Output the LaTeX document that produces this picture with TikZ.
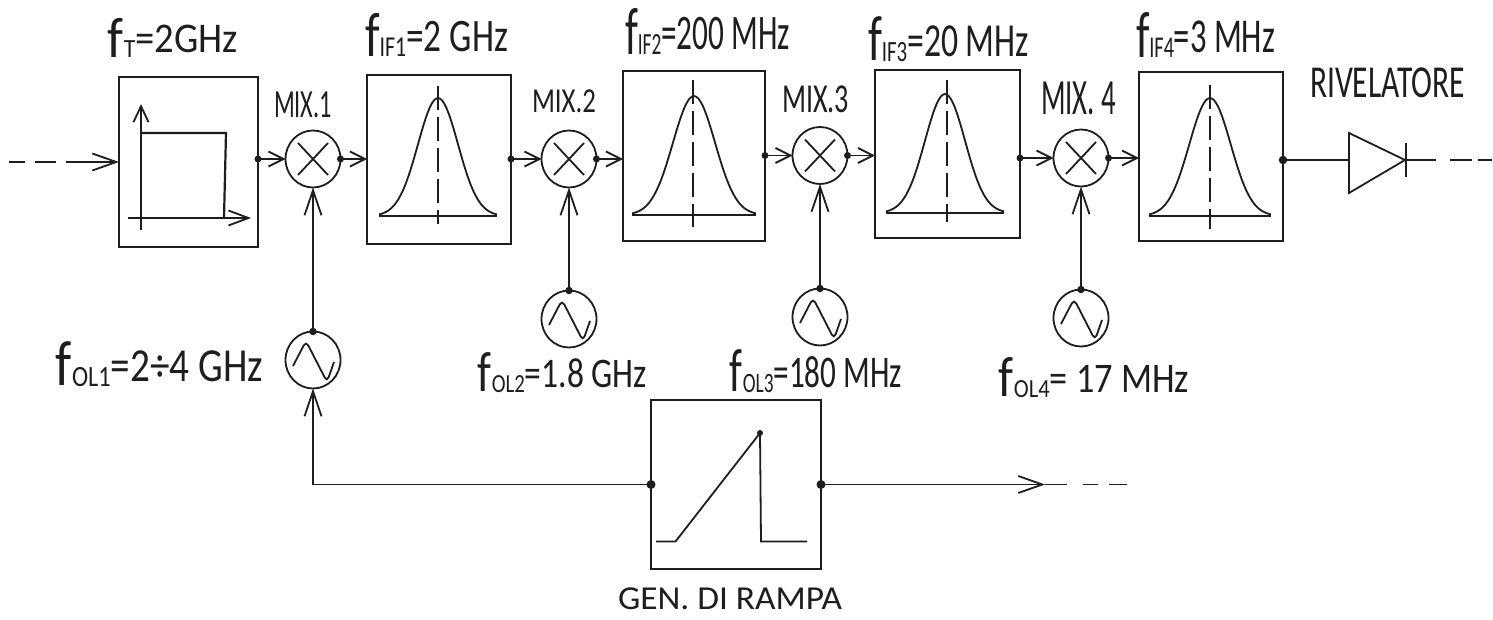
\documentclass[tikz,border=0pt]{standalone}
\usepackage{graphicx}
\usepackage{fontspec}
\setmainfont{Carlito}
\usetikzlibrary{arrows.meta,shapes.geometric,calc}
\definecolor{ink}{HTML}{1E1E1E}
\tikzset{
  ln/.style={draw=ink,line width=1.8pt},
  thin ln/.style={draw=ink,line width=1.3pt},
  blockbox/.style={ln,rectangle,inner sep=0pt,outer sep=0pt},
  rnd/.style={ln,ellipse,inner sep=0pt,outer sep=0pt,minimum width=55pt,minimum height=57pt},
  lab/.style={inner sep=0pt,outer sep=0pt,text=ink},
  small arr/.style={ln,-{Straight Barb[length=15pt,width=15pt,line width=1.8pt]}},
  mid arr/.style={ln,-{Straight Barb[length=24pt,width=17pt,line width=1.8pt]}},
  up arr/.style={ln,-{Straight Barb[length=25pt,width=17pt,line width=1.8pt]}},
  dot/.style={circle,fill=ink,inner sep=0pt,minimum size=7.5pt},
  center dash/.style={thin ln,dash pattern=on 24pt off 7pt},
}
\newcommand{\fq}[2]{\raisebox{-0.1em}{\scalebox{1.35}{f}}\raisebox{-0.12em}{\scalebox{0.62}{#1}}#2}
\newcommand{\fitto}[3]{\resizebox*{#1pt}{#2pt}{#3}}
% filter curve: centre x, base y, half width, height
\newcommand{\filtercurve}[4]{%
  \draw[ln] plot[smooth,samples=31,domain=-1:1,variable=\u] ({#1+\u*#3},{#2-#4*exp(-(\u*\u)/(2*0.34*0.34))});
  \draw[ln] (#1-#3,#2) -- (#1+#3,#2);
}
\newcommand{\sinewave}[1]{%
  \draw[ln,rounded corners=5pt] ($(#1)+(-20,6)$) -- ($(#1)+(-7,-19)$) -- ($(#1)+(14,22)$) -- ($(#1)+(21,2)$);
}
\newcommand{\crossmark}[1]{%
  \draw[ln] ($(#1)+(-15,-16)$) -- ($(#1)+(15,16)$);
  \draw[ln] ($(#1)+(15,-16)$) -- ($(#1)+(-15,16)$);
}
\begin{document}
\begin{tikzpicture}[x=1pt,y=-1pt]
\useasboundingbox (0,0) rectangle (1493,620);
\fill[white] (0,0) rectangle (1493,620);

% blocks
\node[blockbox,minimum width=139pt,minimum height=170pt] (b0) at (188.5,162) {};
\node[blockbox,minimum width=144pt,minimum height=169pt] (b1) at (439,159.5) {};
\node[blockbox,minimum width=142pt,minimum height=170pt] (b2) at (694,156) {};
\node[blockbox,minimum width=145pt,minimum height=168pt] (b3) at (947.5,154) {};
\node[blockbox,minimum width=144pt,minimum height=169pt] (b4) at (1211,156.5) {};
\node[blockbox,minimum width=170pt,minimum height=169pt] (gen) at (736,484.5) {};

% mixers and oscillators
\node[rnd] (m1) at (313,159) {};
\node[rnd] (m2) at (569,159) {};
\node[rnd] (m3) at (820,155.5) {};
\node[rnd] (m4) at (1081,158) {};
\node[rnd] (o1) at (313,360) {};
\node[rnd] (o2) at (569,319) {};
\node[rnd] (o3) at (820,317) {};
\node[rnd] (o4) at (1081,318) {};
\crossmark{m1}\crossmark{m2}\crossmark{m3}\crossmark{m4}
\sinewave{o1}\sinewave{o2}\sinewave{o3}\sinewave{o4}

% band-pass contents
\draw[center dash] (438,86) -- (438,224);
\filtercurve{438}{216}{59}{118}
\draw[center dash] (693,80) -- (693,227);
\filtercurve{694}{215}{62}{119}
\draw[center dash] (947,80) -- (947,222);
\filtercurve{945}{213}{59}{119}
\draw[center dash] (1210,85) -- (1210,229);
\filtercurve{1210}{216}{61}{118}

% low-pass plot
\coordinate (axb) at (141,230);
\coordinate (axt) at (141,104);
\coordinate (axl) at (128,218);
\coordinate (axr) at (251,218);
\draw[ln,-{Straight Barb[length=16pt,width=15pt,line width=1.8pt]}] (axb) -- (axt);
\draw[ln,-{Straight Barb[length=20pt,width=15pt,line width=1.8pt]}] (axl) -- (axr);
\draw[ln,line width=2.2pt] (142,133) -- (226,133) -- (224,218);

% ramp
\draw[ln] (656,541.5) -- (675.5,541.5) -- (760,433) -- (761,541.5) -- (807,541.5);
\fill[ink] (760,433) circle (3pt);

% signal path
\coordinate (in0) at (9,162);
\coordinate (in1) at (25,162);
\coordinate (in2) at (35,162);
\coordinate (in3) at (56,162);
\coordinate (in4) at (66,162);
\draw[ln] (in0) -- (in1);
\draw[ln] (in2) -- (in3);
\draw[mid arr] (in4) -- (b0.west |- in4);

\draw[small arr] (b0.east |- m1.west) -- (m1.west);
\draw[small arr] (m1.east) -- (b1.west |- m1.east);
\draw[small arr] (b1.east |- m2.west) -- (m2.west);
\draw[small arr] (m2.east) -- (b2.west |- m2.east);
\draw[small arr] (b2.east |- m3.west) -- (m3.west);
\draw[small arr] (m3.east) -- (b3.west |- m3.east);
\draw[small arr] (b3.east |- m4.west) -- (m4.west);
\draw[small arr] (m4.east) -- (b4.west |- m4.east);
\foreach \p in {b0.east |- m1.west, m1.east, b1.east |- m2.west, m2.east, b2.east |- m3.west, m3.east, b3.east |- m4.west, m4.east}
  \node[dot,minimum size=7pt] at (\p) {};

% LO inputs
\draw[up arr] (o1.north) -- (m1.south);
\draw[up arr] (o2.north) -- (m2.south);
\draw[up arr] (o3.north) -- (m3.south);
\draw[up arr] (o4.north) -- (m4.south);
\node[dot] at (o1.north) {};
\node[dot] at (o2.north) {};
\node[dot] at (o3.north) {};
\node[dot] at (o4.north) {};

% ramp connections
\draw[up arr] (gen.west) -| (o1.south);
\coordinate (gout) at (1045,484.5);
\coordinate (gd1) at (1067,484.5);
\coordinate (gd2) at (1083,484.5);
\coordinate (gd3) at (1098,484.5);
\coordinate (gd4) at (1109,484.5);
\coordinate (gd5) at (1127,484.5);
\draw[mid arr] (gen.east) -- (gout);
\draw[ln] (gout) -- (gd1);
\draw[ln] (gd2) -- (gd3);
\draw[ln] (gd4) -- (gd5);
\node[dot,minimum size=9pt] at (gen.west) {};
\node[dot,minimum size=9pt] at (gen.east) {};

% detector
\coordinate (da) at (1349,133);
\coordinate (db) at (1349,193);
\coordinate (dm) at (1349,160);
\coordinate (dt) at (1405,160);
\coordinate (dbt) at (1406,143);
\coordinate (dbb) at (1406,177);
\draw[ln] (b4.east |- dm) -- (dm);
\draw[ln] (da) -- (dt) -- (db) -- cycle;
\draw[ln] (dbt) -- (dbb);
\node[dot,minimum size=8.5pt] at (b4.east |- dm) {};
\coordinate (dd1) at (1436,160);
\coordinate (dd2) at (1450,160);
\coordinate (dd3) at (1472,160);
\coordinate (dd4) at (1478,160);
\coordinate (dd5) at (1492,160);
\draw[ln] (dt) -- (dd1);
\draw[ln] (dd2) -- (dd3);
\draw[ln] (dd4) -- (dd5);

% labels
\node[lab] (lT) at (173,38) {\fitto{130}{40}{\fq{T}{=2GHz}}};
\node[lab] (lI1) at (436.5,35) {\fitto{143}{44}{\fq{IF1}{=2 GHz}}};
\node[lab] (lI2) at (707.5,31.5) {\fitto{165}{47}{\fq{IF2}{=200 MHz}}};
\node[lab] (lI3) at (948.5,39.5) {\fitto{161}{45}{\fq{IF3}{=20 MHz}}};
\node[lab] (lI4) at (1205.5,35) {\fitto{139}{46}{\fq{IF4}{=3 MHz}}};
\node[lab] (lO1) at (159.5,364.5) {\fitto{207}{45}{\fq{OL1}{=2÷4 GHz}}};
\node[lab] (lO2) at (562.5,373) {\fitto{169}{40}{\fq{OL2}{=1.8 GHz}}};
\node[lab] (lO3) at (816,371.5) {\fitto{172}{43}{\fq{OL3}{=180 MHz}}};
\node[lab] (lO4) at (1094,378) {\fitto{190}{40}{\fq{OL4}{= 17 MHz}}};
\node[lab] (lm1) at (303,105) {\fitto{58}{26}{MIX.1}};
\node[lab] (lm2) at (564,101.5) {\fitto{64}{23}{MIX.2}};
\node[lab] (lm3) at (815.5,99.5) {\fitto{67}{27}{MIX.3}};
\node[lab] (lm4) at (1078.5,98.5) {\fitto{75}{33}{MIX. 4}};
\node[lab] (lr) at (1387.5,83) {\fitto{155}{30}{RIVELATORE}};
\node[lab] (lg) at (730,599) {\fitto{224}{22}{GEN. DI RAMPA}};
\end{tikzpicture}
\end{document}
